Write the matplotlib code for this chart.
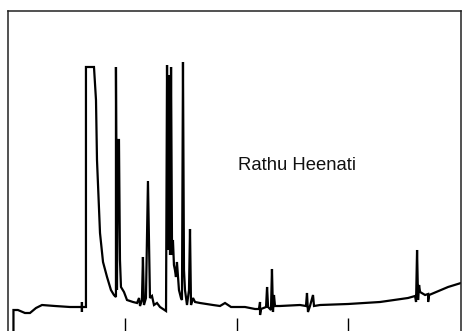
import matplotlib.pyplot as plt

# retention time (min) and detector signal (arbitrary units)
time = [0.0, 0.0, 0.40, 1.03, 1.48, 2.02, 2.56, 3.72, 5.07, 6.14, 6.14, 6.14, 6.14,
        6.50, 6.50, 7.22, 7.40, 7.49, 7.76, 8.03, 8.39, 8.74, 9.01, 9.19, 9.19, 9.28,
        9.37, 9.46, 9.55, 9.64, 9.91, 10.18, 10.72, 11.08, 11.26, 11.35, 11.52, 11.61,
        11.70, 11.88, 12.06, 12.24, 12.42, 12.60, 12.87, 13.14, 13.68, 13.77, 13.86,
        13.95, 14.04, 14.13, 14.22, 14.30, 14.39, 14.48, 14.57, 14.66, 14.84, 15.02,
        15.11, 15.20, 15.29, 15.38, 15.56, 15.74, 15.83, 15.92, 16.10, 16.28, 16.73,
        17.89, 18.52, 18.97, 19.51, 20.76, 21.66, 22.02, 22.11, 22.11, 22.20, 22.65,
        22.74, 22.83, 23.09, 23.18, 23.27, 23.36, 23.45, 23.90, 25.69, 26.23, 26.32,
        26.41, 26.59, 26.86, 26.95, 27.49, 30.00, 32.87, 35.38, 36.01, 36.10, 36.19,
        36.28, 36.37, 36.46, 36.91, 37.18, 37.18, 37.27, 38.97, 40.13]
signal = [-24, -3, -3, -6, -6, -1, 2, 1, 0, 0, 5, -5, 0,
          0, 240, 240, 207, 147, 74, 45, 30, 17, 12, 10, 240, 17,
          167, 167, 47, 20, 15, 7, 5, 4, 9, 1, 7, 50,
          2, 9, 126, 9, 11, 2, 4, 0, -4, 242, 57,
          232, 52, 240, 52, 67, 42, 37, 30, 45, 17, 9,
          7, 245, 37, 17, 2, 17, 78, 2, 9, 5, 4,
          2, 1, 4, 0, 0, -2, -2, 5, -8, -2, 0,
          20, 0, -3, 38, -5, 12, 1, 1, 2, 1, 14,
          -5, 1, 12, 1, 2, 3, 5, 9, 11, 5, 57,
          7, 22, 15, 12, 13, 5, 12, 20, 24]
ticks = [10, 20, 30]
label = "Rathu Heenati"

fig = plt.figure(figsize=(4.62, 3.31), dpi=100)
ax = fig.add_axes([8 / 462, 0, 453 / 462, 320 / 331])
ax.plot(time, signal, color="black", lw=1.6, solid_joinstyle="miter")
ax.set_xlim(-0.49, 40.13)
ax.set_ylim(-24, 296)
ax.set_xticks(ticks)
ax.set_xticklabels([])
ax.set_yticks([])
ax.tick_params(axis="x", direction="in", length=9.5, width=1.0, color="black")
ax.spines["bottom"].set_visible(False)
for s in ["left", "top", "right"]:
    ax.spines[s].set_linewidth(1.1)
    ax.spines[s].set_color("#222222")
ax.text(20.13, 141, label, ha="left", va="center", fontsize=13.3,
        family="Liberation Sans", color="#111111")

fig.savefig("out.png", dpi=100)
